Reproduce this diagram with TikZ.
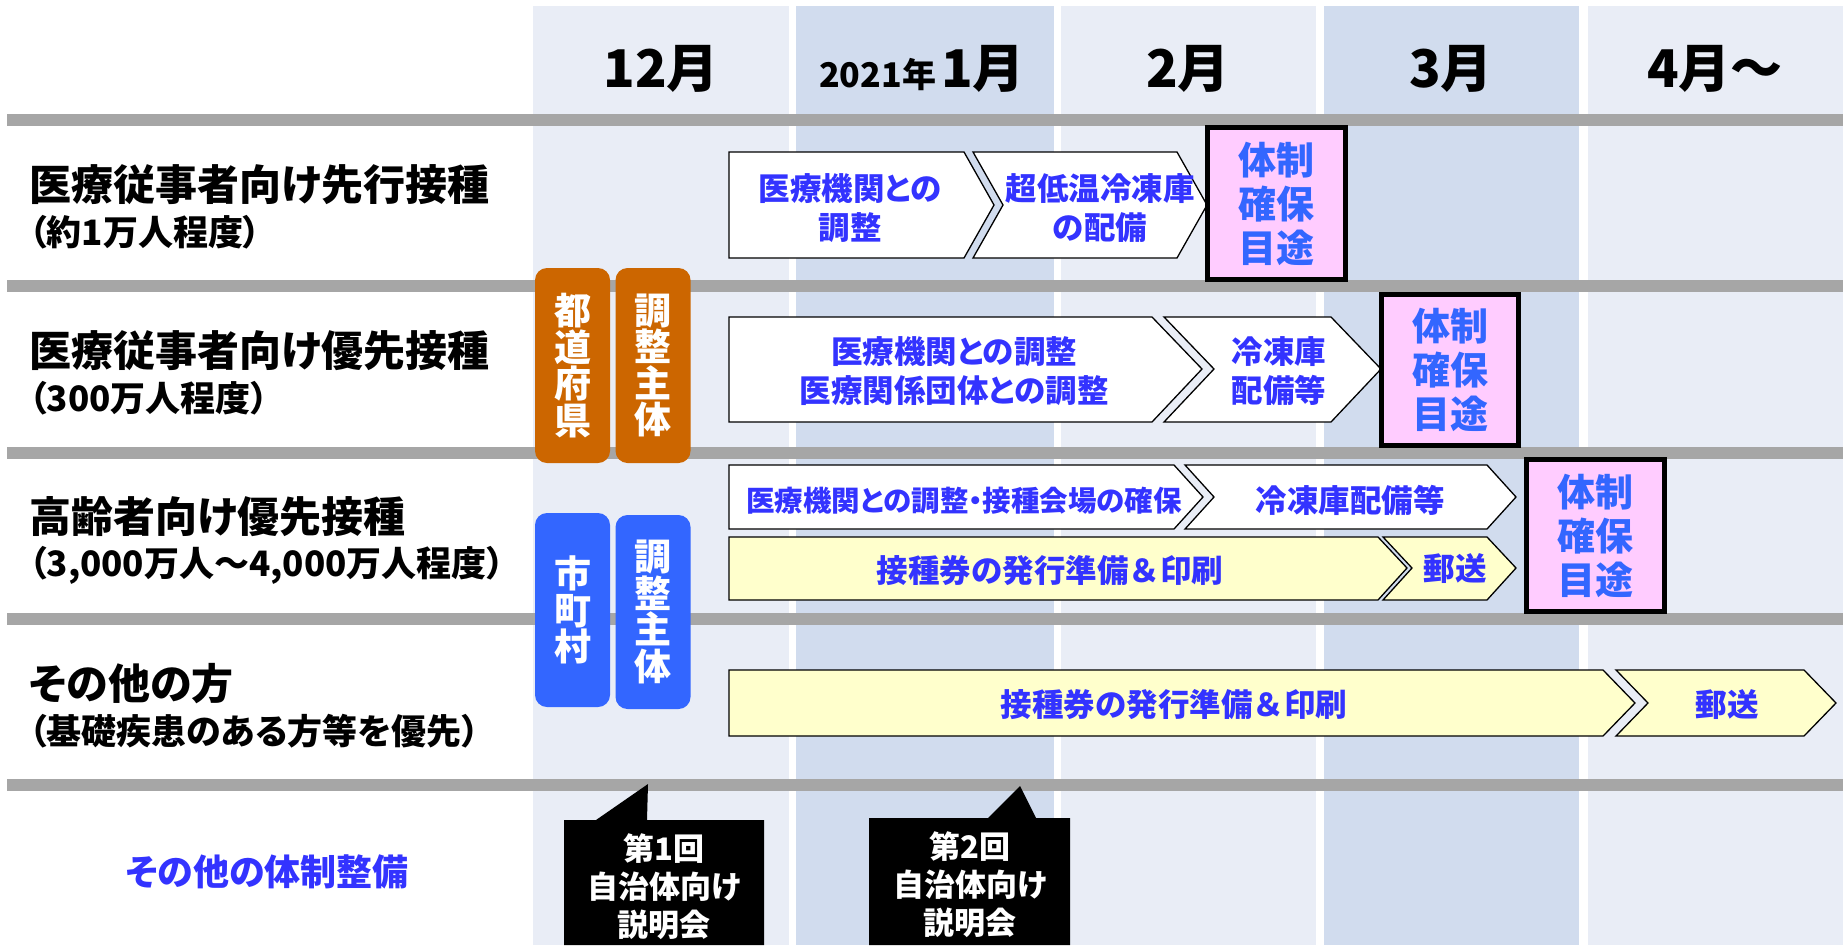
\documentclass[tikz,border=0pt]{standalone}
\usepackage{fontspec}
\setmainfont{Noto Sans CJK JP}[RawFeature=+palt]
\newfontfamily\jpfull{Noto Sans CJK JP}
\newcommand\myfs[2]{\fontsize{#1}{#2}\selectfont\bfseries}
\newcommand\amp{{\jpfull\bfseries ＆}}
\definecolor{colL}{HTML}{E9EDF6}
\definecolor{colD}{HTML}{D1DCEE}
\definecolor{barg}{HTML}{A6A6A6}
\definecolor{orng}{HTML}{CC6600}
\definecolor{bluebox}{HTML}{3366FF}
\definecolor{pinkf}{HTML}{FFCCFF}
\definecolor{yell}{HTML}{FFFFCC}
\definecolor{txtblue}{HTML}{3333FF}
\definecolor{pinktxt}{HTML}{3366FF}
\tikzset{
  rowlab/.style={anchor=west, inner sep=0pt, font=\myfs{42}{46}},
  rowsub/.style={anchor=west, inner sep=0pt, font=\myfs{35}{40}},
  month/.style={anchor=base, inner sep=0pt, font=\myfs{52}{56}},
  chev/.style={draw=black, line width=1.3pt, fill=white},
  chevy/.style={chev, fill=yell},
  chevtxt/.style={inner sep=0pt, align=center, text=txtblue, font=\myfs{31.5}{39}},
  pinkbox/.style={draw=black, line width=5pt, fill=pinkf, text=pinktxt, align=center,
    inner sep=0pt, font=\myfs{38}{44}},
  vbox/.style={rounded corners=12pt, align=center, text=white, inner sep=0pt,
    minimum width=75pt, font=\myfs{37}{36.5}},
  callout/.style={fill=black},
  calltxt/.style={text=white, align=center, inner sep=0pt, font=\myfs{31}{38}},
  bar/.style={fill=barg}
}
\begin{document}
\begin{tikzpicture}[x=1pt,y=-1pt]
\useasboundingbox (0,0) rectangle (1843,945);
\fill[white] (0,0) rectangle (1843,945);
% month columns
\fill[colL] (533,6) rectangle (789,945);
\fill[colD] (796,6) rectangle (1054,945);
\fill[colL] (1061,6) rectangle (1316,945);
\fill[colD] (1324,6) rectangle (1579,945);
\fill[colL] (1588,6) rectangle (1843,945);
% row separators
\fill[bar] (7,114) rectangle (1843,126);
\fill[bar] (7,280) rectangle (1843,292);
\fill[bar] (7,447) rectangle (1843,459);
\fill[bar] (7,613) rectangle (1843,625);
\fill[bar] (7,779) rectangle (1843,791);
% headers
\node[month] (m12) at (661,87) {12月};
\node[month] (m1) at (922,87) {{\myfs{34}{34}2021年}\hspace{5pt}1月};
\node[month] (m2) at (1188,87) {2月};
\node[month] (m3) at (1451,87) {3月};
\node[month] (m4) at (1715,87) {4月～};
% row labels
\node[rowlab] (r1a) at (29,185) {医療従事者向け先行接種};
\node[rowsub] (r1b) at (29,232) {（約1万人程度）};
\node[rowlab] (r2a) at (29,351) {医療従事者向け優先接種};
\node[rowsub] (r2b) at (29,398) {（300万人程度）};
\node[rowlab] (r3a) at (29,517) {高齢者向け優先接種};
\node[rowsub] (r3b) at (29,565) {（3,000万人～4,000万人程度）};
\node[rowlab] (r4a) at (29,684) {その他の方};
\node[rowsub] (r4b) at (29,731) {（基礎疾患のある方等を優先）};
\node[inner sep=0pt, text=txtblue, font=\myfs{36}{40}] (other) at (267,872) {その他の体制整備};
% coordinating bodies
\node[vbox, fill=orng, minimum height=195pt] (pref) at (572.5,365.5) {都\\道\\府\\県};
\node[vbox, fill=orng, minimum height=195pt] (prefc) at (653,365.5) {調\\整\\主\\体};
\node[vbox, fill=bluebox, minimum height=194pt] (muni) at (572.5,610) {市\\町\\村};
\node[vbox, fill=bluebox, minimum height=194pt] (munic) at (653,612) {調\\整\\主\\体};
% row 1
\draw[chev] (729,152) -- (964,152) -- (994,205) -- (964,258) -- (729,258) -- cycle;
\draw[chev] (973,152) -- (1177,152) -- (1207,205) -- (1177,258) -- (973,258) -- (1003,205) -- cycle;
\node[chevtxt] (a1) at (850,208) {医療機関との\\調整};
\node[chevtxt] (a2) at (1100,208) {超低温冷凍庫\\の配備};
% row 2
\draw[chev] (729,317) -- (1152,317) -- (1202,369) -- (1152,422) -- (729,422) -- cycle;
\draw[chev] (1164,317) -- (1331,317) -- (1381,369) -- (1331,422) -- (1164,422) -- (1214,369) -- cycle;
\node[chevtxt] (b1) at (954,371) {医療機関との調整\\医療関係団体との調整};
\node[chevtxt] (b2) at (1279,371) {冷凍庫\\配備等};
% row 3
\draw[chev] (729,465) -- (1174,465) -- (1203,497) -- (1174,529) -- (729,529) -- cycle;
\draw[chev] (1185,465) -- (1487,465) -- (1516,497) -- (1487,529) -- (1185,529) -- (1214,497) -- cycle;
\node[chevtxt, font=\myfs{28.5}{34}] (c1) at (964,501) {医療機関との調整・接種会場の確保};
\node[chevtxt] (c2) at (1350,500) {冷凍庫配備等};
\draw[chevy] (729,537) -- (1378,537) -- (1407,568) -- (1378,600) -- (729,600) -- cycle;
\draw[chevy] (1383,537) -- (1487,537) -- (1516,568) -- (1487,600) -- (1383,600) -- (1412,568) -- cycle;
\node[chevtxt] (d1) at (1050,571) {接種券の発行準備\amp 印刷};
\node[chevtxt] (d2) at (1455,569) {郵送};
% row 4
\draw[chevy] (729,670) -- (1603,670) -- (1635,703) -- (1603,736) -- (729,736) -- cycle;
\draw[chevy] (1616,670) -- (1804,670) -- (1836,703) -- (1804,736) -- (1616,736) -- (1648,703) -- cycle;
\node[chevtxt] (e1) at (1174,705) {接種券の発行準備\amp 印刷};
\node[chevtxt] (e2) at (1727,705) {郵送};
% milestones
\node[pinkbox, minimum width=138pt, minimum height=152pt] (p1) at (1276.5,203.5) {体制\\確保\\目途};
\node[pinkbox, minimum width=137pt, minimum height=151pt] (p2) at (1450,370) {体制\\確保\\目途};
\node[pinkbox, minimum width=138pt, minimum height=152pt] (p3) at (1595.5,535.5) {体制\\確保\\目途};
% briefings
\fill[callout] (564,820) -- (596,820) -- (648,784) -- (647,820) -- (764,820) -- (764,945) -- (564,945) -- cycle;
\fill[callout] (869,818) -- (988,818) -- (1020,786) -- (1036,818) -- (1070,818) -- (1070,945) -- (869,945) -- cycle;
\node[calltxt] (k1) at (664,887) {第1回\\自治体向け\\説明会};
\node[calltxt] (k2) at (970,885) {第2回\\自治体向け\\説明会};
\end{tikzpicture}
\end{document}
